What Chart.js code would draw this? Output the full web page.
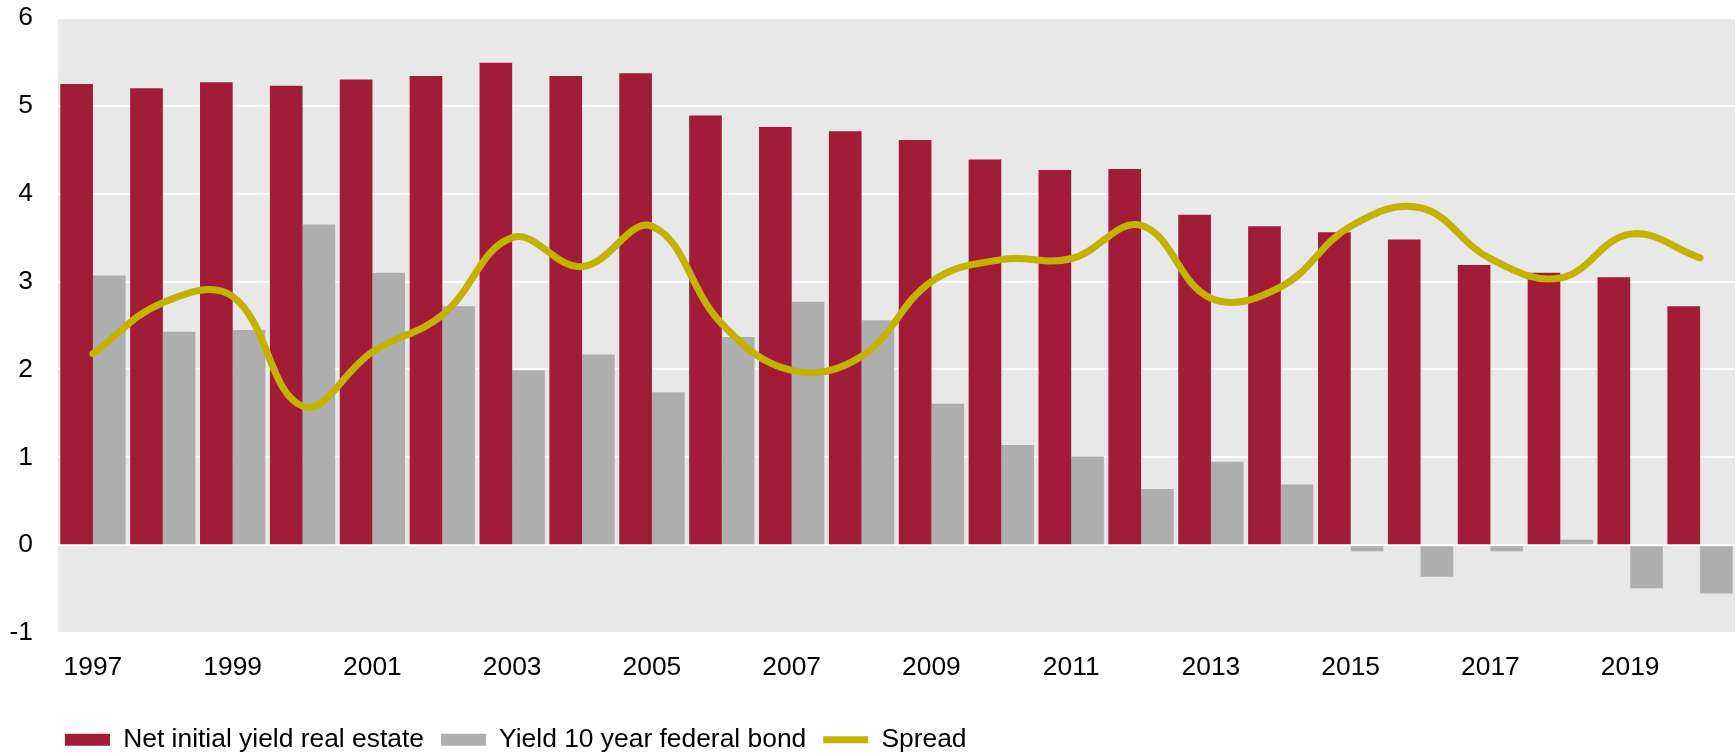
<!DOCTYPE html>
<html>
<head>
<meta charset="utf-8">
<script src="https://cdn.jsdelivr.net/npm/chart.js@4/dist/chart.umd.min.js"></script>
<style>
  html, body { margin: 0; padding: 0; background: #ffffff; }
  #wrap { width: 1736px; height: 755px; }
</style>
</head>
<body>
<div id="wrap"><canvas id="c" width="1736" height="755"></canvas></div>
<script>
const years = ['1997','1998','1999','2000','2001','2002','2003','2004','2005','2006','2007','2008','2009','2010','2011','2012','2013','2014','2015','2016','2017','2018','2019','2020'];
const netInitialYield = [5.25,5.20,5.27,5.23,5.30,5.34,5.49,5.34,5.37,4.89,4.76,4.71,4.61,4.39,4.27,4.28,3.76,3.63,3.56,3.48,3.19,3.10,3.05,2.72];
const bondYield = [3.07,2.43,2.45,3.65,3.10,2.72,1.99,2.17,1.74,2.37,2.77,2.56,1.61,1.14,1.01,0.64,0.95,0.69,-0.07,-0.36,-0.07,0.06,-0.49,-0.55];
const spread = [2.18,2.76,2.83,1.58,2.20,2.62,3.50,3.17,3.63,2.52,1.99,2.15,3.00,3.25,3.26,3.64,2.81,2.94,3.63,3.84,3.26,3.04,3.54,3.27];
const yTicks = [-1,0,1,2,3,4,5,6];

Chart.defaults.font.family = "'Liberation Sans', Arial, sans-serif";
Chart.defaults.font.size = 26.4;
Chart.defaults.color = '#000000';

const plotBg = {
  id: 'plotBg',
  beforeDraw(chart) {
    const a = chart.chartArea, ctx = chart.ctx;
    ctx.save();
    ctx.fillStyle = '#E8E8E8';
    ctx.fillRect(a.left, a.top, a.right - a.left, a.bottom - a.top);
    ctx.restore();
  }
};
const legendShift = {
  id: 'legendShift',
  afterLayout(chart) {
    const lg = chart.legend;
    if (!lg) return;
    lg.left += 38; lg.right += 38;
    lg.top += 8; lg.bottom += 8;
  }
};

new Chart(document.getElementById('c'), {
  data: {
    labels: years,
    datasets: [
      {
        type: 'bar',
        label: 'Net initial yield real estate',
        data: netInitialYield,
        backgroundColor: '#A01C38',
        borderWidth: 0,
        pointStyle: 'rect',
        categoryPercentage: 0.935,
        barPercentage: 1.0,
        order: 1
      },
      {
        type: 'bar',
        label: 'Yield 10 year federal bond',
        data: bondYield,
        backgroundColor: '#AEAEAE',
        borderWidth: 0,
        pointStyle: 'rect',
        categoryPercentage: 0.935,
        barPercentage: 1.0,
        order: 1
      },
      {
        type: 'line',
        label: 'Spread',
        data: spread,
        borderColor: '#C4B200',
        backgroundColor: '#C4B200',
        borderWidth: 7,
        borderCapStyle: 'round',
        borderJoinStyle: 'round',
        tension: 0.4,
        pointRadius: 0,
        pointStyle: 'line',
        fill: false,
        order: 0
      }
    ]
  },
  options: {
    responsive: false,
    animation: false,
    devicePixelRatio: 1,
    layout: { padding: { left: 10, right: 1, top: 18, bottom: 0 } },
    plugins: {
      tooltip: { enabled: false },
      legend: {
        position: 'bottom',
        align: 'start',
        labels: {
          usePointStyle: true,
          pointStyleWidth: 45,
          boxHeight: 12,
          padding: 17,
          color: '#000000',
          font: { size: 26.4 },
          sort: (a, b) => a.datasetIndex - b.datasetIndex
        }
      }
    },
    scales: {
      x: {
        grid: { display: false, drawTicks: false },
        border: { display: false },
        ticks: {
          autoSkip: false,
          maxRotation: 0,
          padding: 19,
          callback: function(value, index) { return index % 2 === 0 ? years[index] : ''; }
        },
        afterFit: function(scale) { scale.height = 68.6; scale.paddingLeft = 0; scale.paddingRight = 0; }
      },
      y: {
        min: -1,
        max: 6,
        afterBuildTicks: function(scale) { scale.ticks = yTicks.map(v => ({ value: v })); },
        grid: { color: '#FFFFFF', lineWidth: 2, drawTicks: false },
        border: { display: false },
        ticks: { padding: 25 },
        afterFit: function(scale) { scale.width = 48; scale.paddingTop = 0; scale.paddingBottom = 0; }
      }
    }
  },
  plugins: [plotBg, legendShift]
});
</script>
</body>
</html>
